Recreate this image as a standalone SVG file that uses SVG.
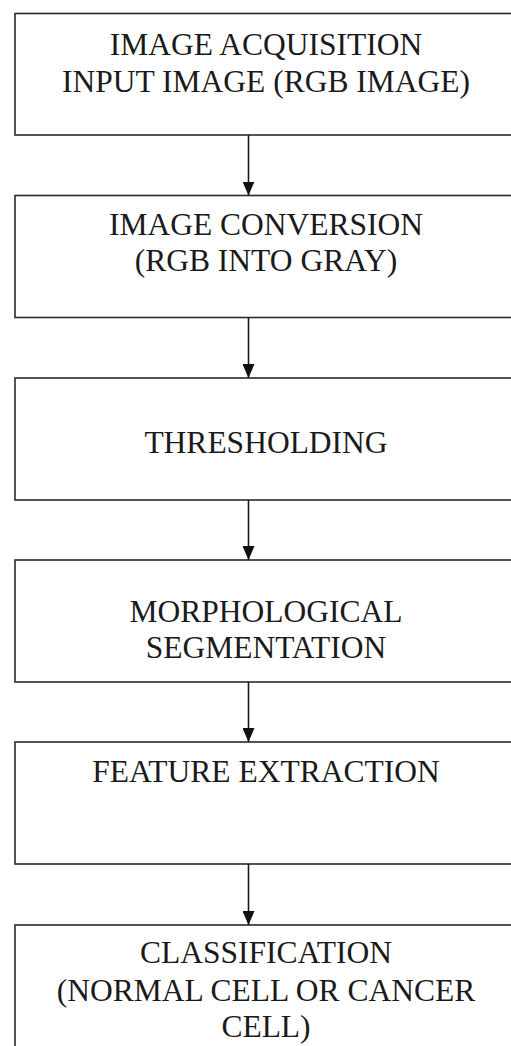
<svg xmlns="http://www.w3.org/2000/svg" width="511" height="1046" viewBox="0 0 511 1046">
<style>
.box{fill:#fff;stroke:#2a2a2a;stroke-width:1.6}
.t{font-size:31.5px;fill:#1a1a1a;text-anchor:middle}
.c{stroke:#1a1a1a;stroke-width:1.6;fill:none}
</style>
<defs>
<marker id="ah" markerWidth="14" markerHeight="12" refX="14" refY="6" orient="auto" markerUnits="userSpaceOnUse" viewBox="0 0 14 12">
<path d="M0,0 L14,6 L0,12 Z" fill="#111"/>
</marker>
</defs>
<rect width="511" height="1046" fill="#fff"/>
<g font-family="Liberation Serif, DejaVu Serif, serif">
<g id="n1"><rect class="box" x="15" y="13.5" width="510" height="121.5"/>
<text class="t" x="266" y="55">IMAGE ACQUISITION</text>
<text class="t" x="266" y="91.7">INPUT IMAGE (RGB IMAGE)</text></g>
<g id="n2"><rect class="box" x="15" y="195.5" width="510" height="122"/>
<text class="t" x="266" y="235">IMAGE CONVERSION</text>
<text class="t" x="266" y="271">(RGB INTO GRAY)</text></g>
<g id="n3"><rect class="box" x="15" y="378" width="510" height="122"/>
<text class="t" x="266" y="453">THRESHOLDING</text></g>
<g id="n4"><rect class="box" x="15" y="560" width="510" height="122"/>
<text class="t" x="266" y="621.5">MORPHOLOGICAL</text>
<text class="t" x="266" y="657.5">SEGMENTATION</text></g>
<g id="n5"><rect class="box" x="15" y="742" width="510" height="122"/>
<text class="t" x="266" y="781.5">FEATURE EXTRACTION</text></g>
<g id="n6"><rect class="box" x="15" y="925" width="510" height="140"/>
<text class="t" x="266" y="963">CLASSIFICATION</text>
<text class="t" x="266" y="1000.5">(NORMAL CELL OR CANCER</text>
<text class="t" x="266" y="1037">CELL)</text></g>
</g>
<g id="connectors">
<line class="c" x1="248.5" y1="135" x2="248.5" y2="195.5" marker-end="url(#ah)"/>
<line class="c" x1="248.5" y1="317.5" x2="248.5" y2="378" marker-end="url(#ah)"/>
<line class="c" x1="248.5" y1="500" x2="248.5" y2="560" marker-end="url(#ah)"/>
<line class="c" x1="248.5" y1="682" x2="248.5" y2="742" marker-end="url(#ah)"/>
<line class="c" x1="248.5" y1="864" x2="248.5" y2="925" marker-end="url(#ah)"/>
</g>
</svg>
